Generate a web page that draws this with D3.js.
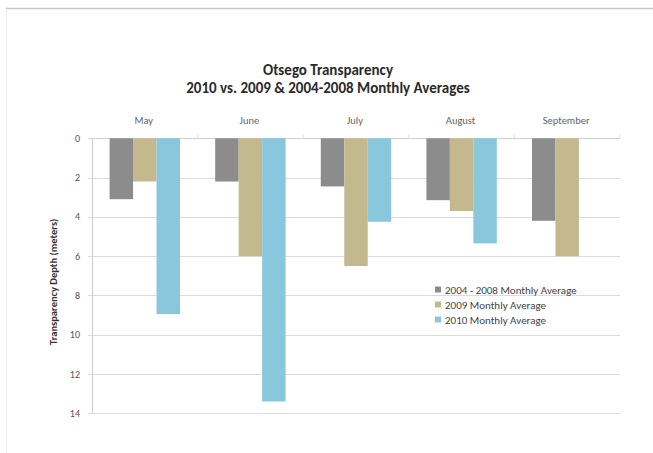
<!DOCTYPE html>
<html><head><meta charset="utf-8">
<script src="https://cdn.jsdelivr.net/npm/d3@7"></script>
<style>body{margin:0;background:#fff;}svg{display:block;font-family:Calibri,Carlito,Lato,"Open Sans",sans-serif;}</style>
</head><body>
<svg id="c" width="653" height="453"></svg>
<script>
const months = ["May","June","July","August","September"];
const seriesNames = ["2004 - 2008 Monthly Average","2009 Monthly Average","2010 Monthly Average"];
const avg0408 = [3.1, 2.2, 2.45, 3.15, 4.2];
const avg2009 = [2.2, 6.0, 6.5, 3.7, 6.0];
const avg2010 = [8.95, 13.4, 4.25, 5.35, null];
const yTicks = [0,2,4,6,8,10,12,14];
const colors = ["#8c8c8c","#c4b98e","#89c8dc"];

const svg = d3.select("#c");
// outer frame
svg.append("line").attr("x1",6).attr("x2",653).attr("y1",8.5).attr("y2",8.5).attr("stroke","#c8c8c8").attr("stroke-width",1.5);
svg.append("line").attr("x1",6.5).attr("x2",6.5).attr("y1",9).attr("y2",453).attr("stroke","#f0f0f0").attr("stroke-width",1);

const L=92, R=620, T=138.3, B=413.3;
const x0 = d3.scaleBand().domain(months).range([L,R]).paddingInner(0).paddingOuter(0);
const bw = x0.bandwidth()/4.5;
const x1 = d3.scaleBand().domain([0,1,2]).range([0.75*bw, 3.75*bw]);
const y = d3.scaleLinear().domain([0,14]).range([T,B]);

// gridlines
svg.append("g").selectAll("line").data(yTicks).join("line")
  .attr("x1",L-4).attr("x2",R).attr("y1",d=>Math.round(y(d))+0.5).attr("y2",d=>Math.round(y(d))+0.5)
  .attr("stroke",d=>d===0?"#cfcfcf":"#dcdcdc").attr("stroke-width",1.2);
// y axis line
svg.append("line").attr("x1",L+0.5).attr("x2",L+0.5).attr("y1",T).attr("y2",B).attr("stroke","#cfcfcf").attr("stroke-width",1.2);
// category ticks at top
svg.append("g").selectAll("line").data(months).join("line")
  .attr("x1",d=>x0(d)+x0.bandwidth()).attr("x2",d=>x0(d)+x0.bandwidth())
  .attr("y1",T-4).attr("y2",T).attr("stroke","#dcdcdc");

// y tick labels
svg.append("g").selectAll("text").data(yTicks).join("text")
  .attr("x",L-12).attr("y",d=>y(d)+3.5).attr("text-anchor","end")
  .attr("font-size",10).attr("fill","#555").text(d=>d);

// bars
const series = [avg0408, avg2009, avg2010];
series.forEach((vals,si)=>{
  svg.append("g").selectAll("rect").data(months.map((m,i)=>({m,v:vals[i]})).filter(d=>d.v!=null)).join("rect")
    .attr("x",d=>x0(d.m)+x1(si)).attr("width",x1.bandwidth())
    .attr("y",y(0)).attr("height",d=>y(d.v)-y(0))
    .attr("fill",colors[si]);
});

// month labels on top
svg.append("g").selectAll("text").data(months).join("text")
  .attr("x",d=>x0(d)+x0.bandwidth()/2-1).attr("y",124).attr("text-anchor","middle")
  .attr("font-size",10.5).attr("fill","#666").text(d=>d);

// title
svg.append("text").attr("x",328).attr("y",75).attr("text-anchor","middle").attr("font-size",15).attr("font-weight","bold").attr("fill","#2a2a2a").text("Otsego Transparency");
svg.append("text").attr("x",328).attr("y",93).attr("text-anchor","middle").attr("font-size",15).attr("font-weight","bold").attr("fill","#2a2a2a").text("2010 vs. 2009 & 2004-2008 Monthly Averages");

// y axis title
svg.append("text").attr("transform",`translate(57,${(T+B)/2+6}) rotate(-90)`).attr("text-anchor","middle")
  .attr("font-size",10.5).attr("font-weight","bold").attr("fill","#333").text("Transparency Depth (meters)");

// legend
const lg = svg.append("g").attr("transform","translate(435,290)");
seriesNames.forEach((n,i)=>{
  lg.append("rect").attr("x",0).attr("y",i*15-3.5).attr("width",6).attr("height",6).attr("fill",colors[i]);
  lg.append("text").attr("x",10).attr("y",i*15+3.5).attr("font-size",11).attr("fill","#444").text(n);
});
</script>
</body></html>
